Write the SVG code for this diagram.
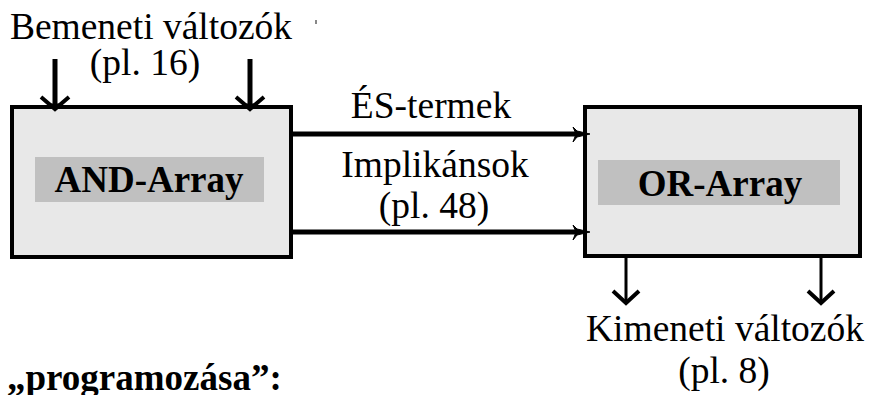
<svg xmlns="http://www.w3.org/2000/svg" width="871" height="395" viewBox="0 0 871 395">
  <style>
    .box { fill: #e8e8e8; stroke: #000; stroke-width: 4; }
    .tag { fill: #c0c0c0; }
    .t { font-family: 'Liberation Serif', 'Times New Roman', serif; font-size: 37.5px; fill: #000; }
    .bold { font-weight: bold; font-size: 37px; }
    .mid { text-anchor: middle; }
    .wire { stroke: #000; fill: none; stroke-linecap: butt; }
    .head { fill: #000; stroke: #000; stroke-width: 1; stroke-linejoin: round; }
  </style>
  <rect width="871" height="395" fill="#fff"/>

  <!-- input label -->
  <g id="inputs-label">
    <text class="t mid" x="151" y="39">Bemeneti változók</text>
    <text class="t mid" x="145" y="75">(pl. 16)</text>
    <rect x="315" y="20" width="2" height="4" fill="#888"/>
  </g>

  <!-- AND plane -->
  <g id="and-array">
    <rect class="box" x="12" y="107" width="279" height="150"/>
    <rect class="tag" x="35" y="157" width="229" height="45"/>
    <text class="t bold mid" x="149" y="192">AND-Array</text>
  </g>

  <!-- OR plane -->
  <g id="or-array">
    <rect class="box" x="585" y="107" width="275" height="149"/>
    <rect class="tag" x="598" y="160" width="242" height="45"/>
    <text class="t bold mid" x="720" y="196">OR-Array</text>
  </g>

  <!-- product-term labels -->
  <g id="terms-label">
    <text class="t mid" x="431" y="118">ÉS-termek</text>
    <text class="t mid" x="435" y="177">Implikánsok</text>
    <text class="t mid" x="434" y="218">(pl. 48)</text>
  </g>

  <!-- output label -->
  <g id="outputs-label">
    <text class="t mid" x="725" y="341">Kimeneti változók</text>
    <text class="t mid" x="724" y="383">(pl. 8)</text>
  </g>

  <g id="caption">
    <text class="t bold" x="7" y="390">„programozása”:</text>
  </g>

  <!-- connectors -->
  <g id="connectors">
    <!-- inputs into the AND plane -->
    <line class="wire" x1="55" y1="59" x2="55" y2="106" stroke-width="5"/>
    <path class="wire" d="M41 97 L55 109 L69 97" stroke-width="4"/>
    <path class="head" d="M51 104 L59 104 L55 111 Z"/>
    <line class="wire" x1="250" y1="59" x2="250" y2="106" stroke-width="5"/>
    <path class="wire" d="M236 97 L250 109 L264 97" stroke-width="4"/>
    <path class="head" d="M246 104 L254 104 L250 111 Z"/>

    <!-- product terms AND -> OR -->
    <line class="wire" x1="291" y1="134" x2="578" y2="134" stroke-width="5"/>
    <path class="head" d="M573 127 L577 131 L590 134 L577 137 L573 142 L576 134 Z"/>
    <line class="wire" x1="291" y1="232" x2="578" y2="232" stroke-width="5"/>
    <path class="head" d="M573 225 L577 229 L590 232 L577 235 L573 240 L576 232 Z"/>

    <!-- outputs from the OR plane -->
    <line class="wire" x1="626" y1="256" x2="626" y2="302" stroke-width="3"/>
    <path class="wire" d="M613 291 L626 303 L639 291" stroke-width="4"/>
    <line class="wire" x1="821" y1="256" x2="821" y2="302" stroke-width="3"/>
    <path class="wire" d="M808 291 L821 303 L834 291" stroke-width="4"/>
  </g>
</svg>
